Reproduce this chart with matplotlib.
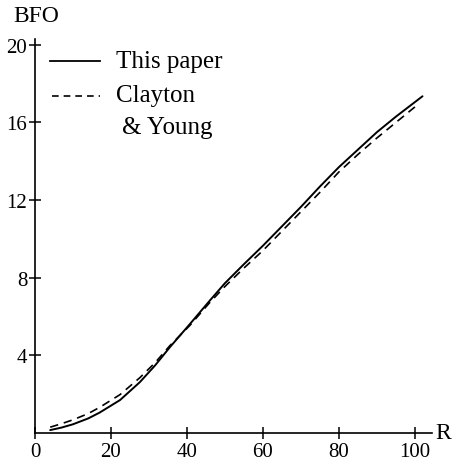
import matplotlib
matplotlib.use("Agg")
import matplotlib.pyplot as plt
from matplotlib.lines import Line2D

# Data
r_this = [4, 7, 10, 14, 17, 22.4, 27.6, 31.6, 35.5, 40.8, 46,
          50, 55, 60, 65, 70, 75, 80, 85, 90, 95, 100, 102]
bfo_this = [0.15, 0.28, 0.45, 0.75, 1.05, 1.7, 2.62, 3.48, 4.42, 5.62, 6.82,
            7.72, 8.7, 9.65, 10.65, 11.65, 12.7, 13.7, 14.6, 15.5, 16.3, 17.05, 17.35]
r_cy = [4, 7, 10, 14, 17, 22.4, 27.6, 31.6, 35.5, 40.8, 46,
        50, 55, 60, 65, 70, 75, 80, 85, 90, 95, 100, 101]
bfo_cy = [0.3, 0.48, 0.68, 1.0, 1.32, 1.98, 2.85, 3.62, 4.5, 5.55, 6.72,
          7.55, 8.5, 9.4, 10.4, 11.4, 12.4, 13.45, 14.35, 15.2, 16.0, 16.8, 17.0]
xticks = [0, 20, 40, 60, 80, 100]
yticks = [4, 8, 12, 16, 20]

plt.rcParams['font.family'] = ['Liberation Serif', 'DejaVu Serif']

W, H = 453, 464
fig = plt.figure(figsize=(W / 100, H / 100), dpi=100)
ax = fig.add_axes([35 / W, 30 / H, (432 - 35) / W, (434 - 40) / H])

ax.plot(r_this, bfo_this, color='black', lw=1.4, solid_capstyle='round',
        solid_joinstyle='round')
ax.plot(r_cy, bfo_cy, color='black', lw=1.2, dashes=(5, 3.5))

ax.set_xlim(0, 104.5)
ax.set_ylim(0, 20.3)
ax.set_xticks(xticks)
ax.set_yticks(yticks)
for s in ['top', 'right']:
    ax.spines[s].set_visible(False)
for s in ['left', 'bottom']:
    ax.spines[s].set_linewidth(1.2)
ax.tick_params(direction='inout', length=9, width=1.1, labelsize=15, pad=1)
ax.tick_params(axis='x', pad=2)

# Axis labels
fig.text(443 / W, 1 - 434 / H, 'R', fontsize=17, ha='center', va='center')
fig.text(13 / W, 1 - 17 / H, 'BFO', fontsize=17, ha='left', va='center')

# Manual legend
tf = fig.transFigure
fig.add_artist(Line2D([50 / W, 100 / W], [1 - 62 / H, 1 - 62 / H], transform=tf,
                      color='black', lw=1.3))
fig.add_artist(Line2D([52 / W, 100 / W], [1 - 97 / H, 1 - 97 / H], transform=tf,
                      color='black', lw=1.2, dashes=(4, 3)))
fig.text(116 / W, 1 - 62 / H, 'This paper', fontsize=18, ha='left', va='center')
fig.text(116 / W, 1 - 96 / H, 'Clayton', fontsize=18, ha='left', va='center')
fig.text(122 / W, 1 - 128 / H, '& Young', fontsize=18, ha='left', va='center')

fig.savefig('out.png', dpi=100)
